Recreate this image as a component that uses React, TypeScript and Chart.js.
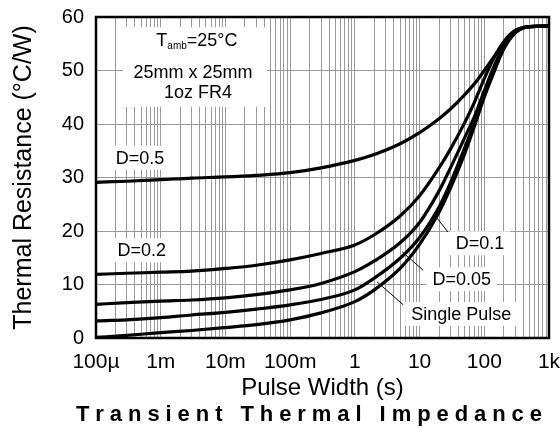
import React, { useEffect, useRef } from 'react';
import { Chart, registerables } from 'chart.js';

Chart.register(...registerables);

// ---- data ----
const pulseWidths = [1e-4, 3e-4, 1e-3, 3e-3, 1e-2, 3e-2, 0.1, 0.3, 1, 2, 5, 10, 20, 30, 50, 70, 100, 150, 200, 300, 500, 1000];
const seriesD05 = [29.1, 29.3, 29.6, 29.9, 30.1, 30.4, 30.9, 31.8, 33.2, 34.3, 36.3, 38.4, 41.0, 42.8, 45.5, 47.5, 50.0, 53.0, 55.0, 57.3, 58.2, 58.3];
const seriesD02 = [11.9, 12.1, 12.3, 12.5, 13.0, 13.6, 14.6, 15.8, 17.4, 19.3, 22.8, 26.6, 31.8, 35.3, 40.3, 44.0, 48.5, 53.0, 55.4, 57.5, 58.2, 58.3];
const seriesD01 = [6.3, 6.6, 6.9, 7.1, 7.5, 8.1, 9.0, 10.2, 12.4, 14.4, 17.8, 21.6, 27.5, 31.8, 37.5, 41.3, 46.2, 51.5, 54.6, 57.2, 58.2, 58.3];
const seriesD005 = [3.2, 3.4, 3.8, 4.3, 4.8, 5.4, 6.2, 7.2, 9.0, 11.2, 14.9, 18.8, 24.5, 29.0, 35.6, 40.2, 45.6, 51.0, 54.3, 57.1, 58.2, 58.3];
const seriesSingle = [0.1, 0.5, 1.0, 1.4, 1.95, 2.5, 3.4, 4.7, 6.8, 9.0, 13.0, 17.5, 23.5, 28.0, 34.5, 39.5, 45.0, 50.5, 54.0, 57.0, 58.2, 58.3];
const seriesNames = ['D=0.5', 'D=0.2', 'D=0.1', 'D=0.05', 'Single Pulse'];
const xTickLabels = ['100µ', '1m', '10m', '100m', '1', '10', '100', '1k'];
const yTickLabels = ['0', '10', '20', '30', '40', '50', '60'];

const xTitle = 'Pulse Width (s)';
const yTitle = 'Thermal Resistance (°C/W)';
const chartTitle = 'Transient Thermal Impedance';
const condLines = ['25mm x 25mm', '1oz FR4'];

const FONT = '"Liberation Sans", Arial, Helvetica, sans-serif';

// label anchors in data space: [text, x, y]
const curveLabels: [string, number, number][] = [
  ['D=0.5', 4.8e-4, 33.7],
  ['D=0.2', 5.1e-4, 16.4],
  ['D=0.1', 86, 17.7],
  ['D=0.05', 45, 11.0],
  ['Single Pulse', 44, 4.5],
];
// leader lines in data space
const leaders: [number, number, number, number][] = [
  [18.6, 22.4, 27.5, 19.8],
  [5.4, 16.1, 11.3, 12.7],
  [2.2, 10.5, 5.6, 6.2],
];

export default function App() {
  const ref = useRef<HTMLCanvasElement>(null);
  useEffect(() => {
    document.body.style.margin = '0';
    const canvas = ref.current!;
    const mk = (vals: number[]) => pulseWidths.map((x, i) => ({ x, y: vals[i] }));
    const allSeries = [seriesD05, seriesD02, seriesD01, seriesD005, seriesSingle];

    const annot = {
      id: 'annot',
      beforeDatasetsDraw(chart: any) {
        const c = chart.ctx as CanvasRenderingContext2D;
        const xs = chart.scales.x;
        const ys = chart.scales.y;
        c.save();
        // condition box
        const bx0 = xs.getPixelForValue(2.6e-4);
        const bx1 = xs.getPixelForValue(4.4e-2);
        const by0 = ys.getPixelForValue(58.1);
        const by1 = ys.getPixelForValue(43.2);
        c.fillStyle = '#fff';
        c.fillRect(bx0, by0, bx1 - bx0, by1 - by0);
        const cx = (bx0 + bx1) / 2;
        c.fillStyle = '#000';
        c.textBaseline = 'alphabetic';
        // line 1: T_amb=25°C
        c.font = `18px ${FONT}`;
        const wT = c.measureText('T').width;
        const wRest = c.measureText('=25°C').width;
        c.font = `10px ${FONT}`;
        const wSub = c.measureText('amb').width;
        let x0 = cx - (wT + wSub + wRest) / 2 + 2;
        c.textAlign = 'left';
        c.font = `18px ${FONT}`;
        c.fillText('T', x0, by0 + 19);
        c.font = `10px ${FONT}`;
        c.fillText('amb', x0 + wT, by0 + 22);
        c.font = `18px ${FONT}`;
        c.fillText('=25°C', x0 + wT + wSub, by0 + 19);
        c.textAlign = 'center';
        c.fillText(condLines[0], cx - 2, by0 + 51);
        c.fillText(condLines[1], cx + 3, by0 + 71);

        // curve labels
        c.font = `18px ${FONT}`;
        c.textAlign = 'center';
        c.textBaseline = 'middle';
        curveLabels.forEach(([t, vx, vy]) => {
          const px = xs.getPixelForValue(vx);
          const py = ys.getPixelForValue(vy);
          const w = c.measureText(t).width + 12;
          c.fillStyle = '#fff';
          c.fillRect(px - w / 2, py - 12, w, 24);
          c.fillStyle = '#000';
          c.fillText(t, px, py + 1);
        });
        // leaders
        c.strokeStyle = '#000';
        c.lineWidth = 1;
        leaders.forEach(([a, b, d, e]) => {
          c.beginPath();
          c.moveTo(xs.getPixelForValue(a), ys.getPixelForValue(b));
          c.lineTo(xs.getPixelForValue(d), ys.getPixelForValue(e));
          c.stroke();
        });
        c.restore();
      },
      afterDraw(chart: any) {
        const c = chart.ctx as CanvasRenderingContext2D;
        const a = chart.chartArea;
        c.save();
        c.strokeStyle = '#000';
        c.lineWidth = 2.5;
        c.strokeRect(a.left, a.top, a.right - a.left, a.bottom - a.top);
        c.fillStyle = '#000';
        // axis titles
        c.font = `24px ${FONT}`;
        c.textAlign = 'center';
        c.textBaseline = 'alphabetic';
        c.fillText(xTitle, (a.left + a.right) / 2, 395);
        c.save();
        c.font = `25px ${FONT}`;
        c.translate(31, (a.top + a.bottom) / 2);
        c.rotate(-Math.PI / 2);
        c.fillText(yTitle, 0, 0);
        c.restore();
        // chart title with letter spacing
        c.font = `bold 22px ${FONT}`;
        c.textAlign = 'left';
        const chars = chartTitle.split('');
        const base = chars.reduce((s, ch) => s + c.measureText(ch).width, 0);
        const start = 76, end = 542;
        const sp = (end - start - base) / (chars.length - 1);
        let x = start;
        chars.forEach((ch) => {
          c.fillText(ch, x, 421);
          x += c.measureText(ch).width + sp;
        });
        c.restore();
      },
    };

    const chart = new Chart(canvas, {
      type: 'line',
      data: {
        datasets: allSeries.map((s, i) => ({
          label: seriesNames[i],
          data: mk(s),
          borderColor: '#000',
          borderWidth: 3.2,
          pointRadius: 0,
          cubicInterpolationMode: 'monotone' as const,
          fill: false,
        })),
      },
      options: {
        animation: false,
        responsive: false,
        layout: { padding: { left: 0, top: 17, right: 11, bottom: 0 } },
        plugins: {
          legend: { display: false },
          tooltip: { enabled: false },
          title: { display: false },
        },
        scales: {
          x: {
            type: 'logarithmic',
            min: 1e-4,
            max: 1e3,
            afterBuildTicks: (s: any) => {
              const t: any[] = [];
              for (let e = -4; e <= 3; e++) {
                for (let m = 1; m <= 9; m++) {
                  const v = parseFloat((m * Math.pow(10, e)).toPrecision(6));
                  if (v <= 1e3) t.push({ value: v });
                }
              }
              s.ticks = t;
            },
            afterFit: (s: any) => {
              s.height = 100;
              s.paddingLeft = 0;
              s.paddingRight = 0;
            },
            grid: { color: '#999', lineWidth: 1, drawTicks: false },
            border: { display: false },
            ticks: {
              autoSkip: false,
              maxRotation: 0,
              padding: 12,
              color: '#000',
              font: { family: FONT, size: 21 },
              callback: (v: any) => {
                const l = Math.log10(Number(v));
                if (Math.abs(l - Math.round(l)) < 1e-6) return xTickLabels[Math.round(l) + 4];
                return '';
              },
            },
          },
          y: {
            min: 0,
            max: 60,
            afterFit: (s: any) => {
              s.width = 96;
              s.paddingTop = 0;
              s.paddingBottom = 0;
            },
            grid: { color: '#999', lineWidth: 1, drawTicks: false },
            border: { display: false },
            ticks: {
              stepSize: 5,
              padding: 12,
              color: '#000',
              font: { family: FONT, size: 20 },
              callback: (v: any) => {
                const n = Number(v);
                return n % 10 === 0 ? yTickLabels[n / 10] : '';
              },
            },
          },
        },
      },
      plugins: [annot],
    } as any);
    return () => chart.destroy();
  }, []);
  return (
    <div style={{ position: 'absolute', left: 0, top: 0, width: 560, height: 438, background: '#fff' }}>
      <canvas ref={ref} width={560} height={438} style={{ display: 'block' }} />
    </div>
  );
}
